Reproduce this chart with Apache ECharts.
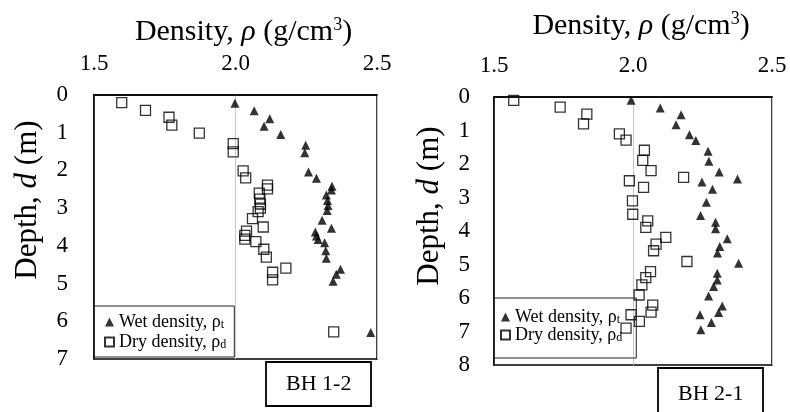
<!DOCTYPE html>
<html>
<head>
<meta charset="utf-8">
<script src="https://cdn.jsdelivr.net/npm/echarts@6/dist/echarts.min.js"></script>
<style>html,body{margin:0;padding:0;background:#fff;}#c{width:790px;height:412px;}</style>
</head>
<body>
<div id="c"></div>
<script>
// ---- Data (density g/cm3, depth m) ----
var densityTicks = [1.5, 2.0, 2.5];
var bh12WetDensity = [1.998,2.066,2.121,2.101,2.160,2.248,2.245,2.258,2.286,2.341,2.339,2.321,2.325,2.327,2.324,2.306,2.339,2.282,2.286,2.292,2.315,2.319,2.321,2.371,2.356,2.345,2.478];
var bh12WetDepth   = [0.22,0.42,0.63,0.83,1.05,1.33,1.53,2.04,2.21,2.42,2.52,2.65,2.80,2.93,3.06,3.32,3.53,3.63,3.74,3.83,3.92,4.13,4.33,4.62,4.75,4.94,6.30];
var bh12DryDensity = [1.598,1.682,1.765,1.775,1.872,1.992,1.992,2.027,2.036,2.113,2.113,2.084,2.086,2.088,2.088,2.080,2.060,2.098,2.039,2.033,2.033,2.072,2.100,2.109,2.178,2.131,2.131,2.347];
var bh12DryDepth   = [0.20,0.41,0.59,0.80,1.01,1.29,1.51,2.01,2.20,2.39,2.49,2.60,2.76,2.89,3.00,3.09,3.28,3.50,3.61,3.72,3.82,3.89,4.09,4.30,4.59,4.70,4.90,6.28];
var bh21WetDensity = [1.993,2.098,2.173,2.155,2.203,2.226,2.270,2.273,2.310,2.376,2.248,2.286,2.264,2.243,2.297,2.297,2.339,2.312,2.304,2.380,2.303,2.303,2.290,2.272,2.321,2.308,2.241,2.282,2.244];
var bh21WetDepth   = [0.10,0.33,0.53,0.83,1.13,1.30,1.62,1.92,2.24,2.45,2.54,2.75,3.14,3.54,3.74,3.93,4.23,4.46,4.66,4.96,5.26,5.46,5.66,5.94,6.24,6.43,6.50,6.73,6.95];
var bh21DryDensity = [1.571,1.738,1.834,1.822,1.951,1.975,2.041,2.035,2.065,2.182,1.987,2.038,1.998,1.999,2.053,2.046,2.118,2.083,2.074,2.194,2.063,2.046,2.032,2.022,2.071,2.065,1.993,2.023,1.975];
var bh21DryDepth   = [0.10,0.30,0.51,0.80,1.10,1.29,1.59,1.89,2.20,2.40,2.50,2.70,3.10,3.50,3.70,3.89,4.19,4.39,4.59,4.91,5.21,5.39,5.61,5.91,6.21,6.42,6.50,6.70,6.90];
var bh12MaxDepth = 7, bh21MaxDepth = 8;
var boreholeLabels = ['BH 1-2', 'BH 2-1'];
var wetName = 'Wet density, ρt', dryName = 'Dry density, ρd';

function zip(a, b) { return a.map(function (v, i) { return [v, b[i]]; }); }

var FONT = '"Liberation Serif", "Times New Roman", serif';
var chart = echarts.init(document.getElementById('c'), null, { renderer: 'canvas' });

function xAxisCfg(gridIndex, nameGap) {
  return {
    gridIndex: gridIndex, type: 'value', position: 'top',
    min: densityTicks[0], max: densityTicks[densityTicks.length - 1], interval: 0.5,
    name: '{a|Density, }{i|ρ}{a| (g/cm}{sup|3}{a|)}',
    nameLocation: 'middle', nameGap: nameGap,
    nameTextStyle: {
      padding: [0, 0, 0, 16],
      rich: {
        a: { fontFamily: FONT, fontSize: 30, color: '#000' },
        i: { fontFamily: FONT, fontSize: 30, fontStyle: 'italic', color: '#000' },
        sup: { fontFamily: FONT, fontSize: 18, color: '#000', padding: [0, 0, 14, 0] }
      }
    },
    axisLine: { show: true, lineStyle: { color: '#000', width: 1.5 } },
    axisTick: { show: false },
    axisLabel: { fontFamily: FONT, fontSize: 23, color: '#000', margin: 20,
      formatter: function (v) { return v.toFixed(1); } },
    splitLine: { show: true, lineStyle: { color: '#c8c8c8', width: 1 } }
  };
}
function yAxisCfg(gridIndex, max, margin) {
  return {
    gridIndex: gridIndex, type: 'value', inverse: true, min: 0, max: max, interval: 1,
    axisLine: { show: true, lineStyle: { color: '#000', width: 1.5 } },
    axisTick: { show: false },
    axisLabel: { fontFamily: FONT, fontSize: 23, color: '#000', margin: margin },
    splitLine: { show: false }
  };
}
function legendCfg(left, top, padding, itemGap) {
  return {
    orient: 'vertical', left: left, top: top, padding: padding, itemGap: itemGap,
    itemWidth: 9, itemHeight: 9,
    borderColor: '#222', borderWidth: 1, borderRadius: 0,
    data: [wetName, dryName],
    formatter: function (n) {
      return n === wetName ? '{m|Wet density, ρ}{s|t}' : '{m|Dry density, ρ}{s|d}';
    },
    textStyle: {
      rich: {
        m: { fontFamily: FONT, fontSize: 18, color: '#000' },
        s: { fontFamily: FONT, fontSize: 12, color: '#000', padding: [6, 0, 0, 0] }
      }
    },
    selectedMode: false
  };
}
var wetStyle = { symbol: 'triangle', symbolSize: 9, itemStyle: { color: '#000' } };
var dryStyle = { symbol: 'rect', symbolSize: 10,
  itemStyle: { color: 'rgba(255,255,255,0)', borderColor: '#000', borderWidth: 1.3 } };

function scatter(name, xi, data, st) {
  return Object.assign({ type: 'scatter', name: name, xAxisIndex: xi, yAxisIndex: xi, data: data, z: 3 }, st);
}

var option = {
  animation: false,
  backgroundColor: '#fff',
  grid: [
    { left: 94, top: 95, width: 283, height: 264, show: true, borderColor: '#000', borderWidth: 1.5 },
    { left: 494, top: 97, width: 278, height: 268, show: true, borderColor: '#000', borderWidth: 1.5 }
  ],
  xAxis: [xAxisCfg(0, 46), xAxisCfg(1, 55)],
  yAxis: [yAxisCfg(0, bh12MaxDepth, 26), yAxisCfg(1, bh21MaxDepth, 24)],
  legend: [legendCfg(94, 306, [7, 8, 6, 10], 2), legendCfg(494, 298, [10, 14, 14, 6], 0)],
  title: [
    { text: boreholeLabels[0], left: 266, top: 362, padding: [10, 20, 10, 20],
      borderColor: '#000', borderWidth: 1.8,
      textStyle: { fontFamily: FONT, fontSize: 22, fontWeight: 'normal', color: '#000', lineHeight: 24 } },
    { text: boreholeLabels[1], left: 658, top: 368, padding: [14, 20, 30, 20],
      borderColor: '#000', borderWidth: 1.8,
      textStyle: { fontFamily: FONT, fontSize: 22, fontWeight: 'normal', color: '#000', lineHeight: 24 } }
  ],
  graphic: [
    { type: 'text', x: 28, y: 200, rotation: Math.PI / 2,
      style: { text: '{a|Depth, }{i|d}{a| (m)}', align: 'center', verticalAlign: 'middle',
        rich: { a: { fontFamily: FONT, fontSize: 31, fill: '#000' },
                i: { fontFamily: FONT, fontSize: 31, fontStyle: 'italic', fill: '#000' } } } },
    { type: 'text', x: 430, y: 206, rotation: Math.PI / 2,
      style: { text: '{a|Depth, }{i|d}{a| (m)}', align: 'center', verticalAlign: 'middle',
        rich: { a: { fontFamily: FONT, fontSize: 31, fill: '#000' },
                i: { fontFamily: FONT, fontSize: 31, fontStyle: 'italic', fill: '#000' } } } }
  ],
  series: [
    scatter(wetName, 0, zip(bh12WetDensity, bh12WetDepth), wetStyle),
    scatter(dryName, 0, zip(bh12DryDensity, bh12DryDepth), dryStyle),
    scatter(wetName, 1, zip(bh21WetDensity, bh21WetDepth), wetStyle),
    scatter(dryName, 1, zip(bh21DryDensity, bh21DryDepth), dryStyle)
  ]
};
chart.setOption(option);
</script>
</body>
</html>
